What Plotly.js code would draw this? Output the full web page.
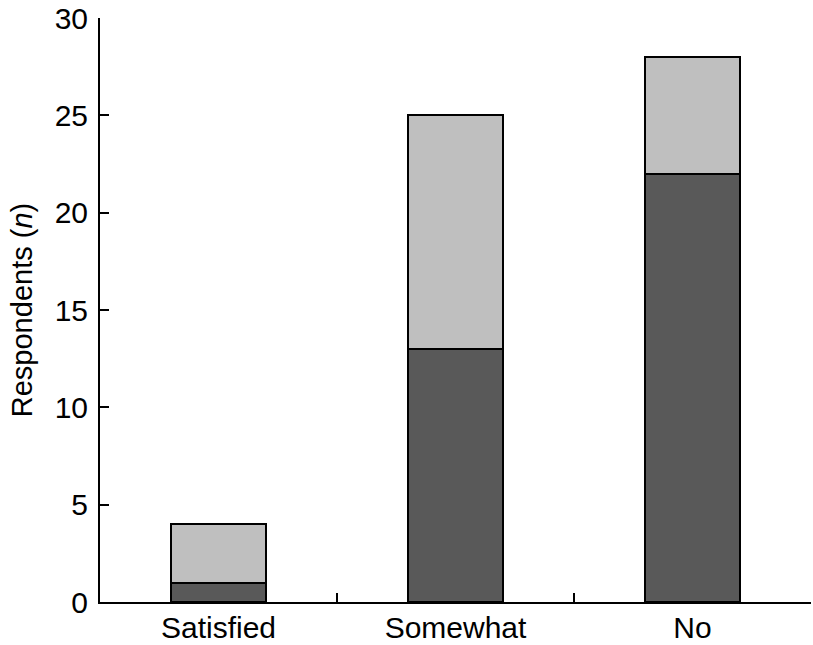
<!DOCTYPE html>
<html>
<head>
<meta charset="utf-8">
<script src="https://cdn.plot.ly/plotly-3.0.1.min.js"></script>
<style>html,body{margin:0;padding:0;background:#fff;}#chart{width:813px;height:645px;}</style>
</head>
<body>
<div id="chart"></div>
<script>
const categories = ["Satisfied", "Somewhat", "No"];
const darkValues = [1, 13, 22];
const lightValues = [3, 12, 6];
const yTickVals = [0, 5, 10, 15, 20, 25, 30];

const lineStyle = {color: "#000000", width: 2};
const traces = [
  {type: "bar", x: categories, y: darkValues, width: 0.4,
   marker: {color: "#595959", line: lineStyle}, hoverinfo: "skip"},
  {type: "bar", x: categories, y: lightValues, width: 0.4,
   marker: {color: "#bfbfbf", line: lineStyle}, hoverinfo: "skip"}
];
const font = {family: "Liberation Sans, Arial, Helvetica, sans-serif", size: 30, color: "#000"};
const titleFont = {family: "Liberation Sans, Arial, Helvetica, sans-serif", size: 29, color: "#000"};
const layout = {
  width: 813, height: 645,
  margin: {l: 100, r: 2, t: 18, b: 43, pad: 0},
  barmode: "stack",
  showlegend: false,
  paper_bgcolor: "#fff", plot_bgcolor: "#fff",
  font: font,
  xaxis: {
    type: "category",
    range: [-0.5, 2.5],
    showline: true, linecolor: "#000", linewidth: 2,
    ticks: "inside", ticklen: 9, tickwidth: 2, tickcolor: "#000",
    tickson: "boundaries",
    showgrid: false, zeroline: false,
    tickfont: font,
    ticklabelstandoff: -2
  },
  yaxis: {
    range: [0, 30],
    tickvals: yTickVals,
    showline: true, linecolor: "#000", linewidth: 2,
    ticks: "inside", ticklen: 9, tickwidth: 2, tickcolor: "#000",
    showgrid: false, zeroline: false,
    tickfont: font,
    ticklabelstandoff: 4,
    title: {text: "Respondents (<i>n</i>)", font: titleFont, standoff: 13}
  }
};
Plotly.newPlot("chart", traces, layout, {staticPlot: true, displayModeBar: false});
</script>
</body>
</html>
